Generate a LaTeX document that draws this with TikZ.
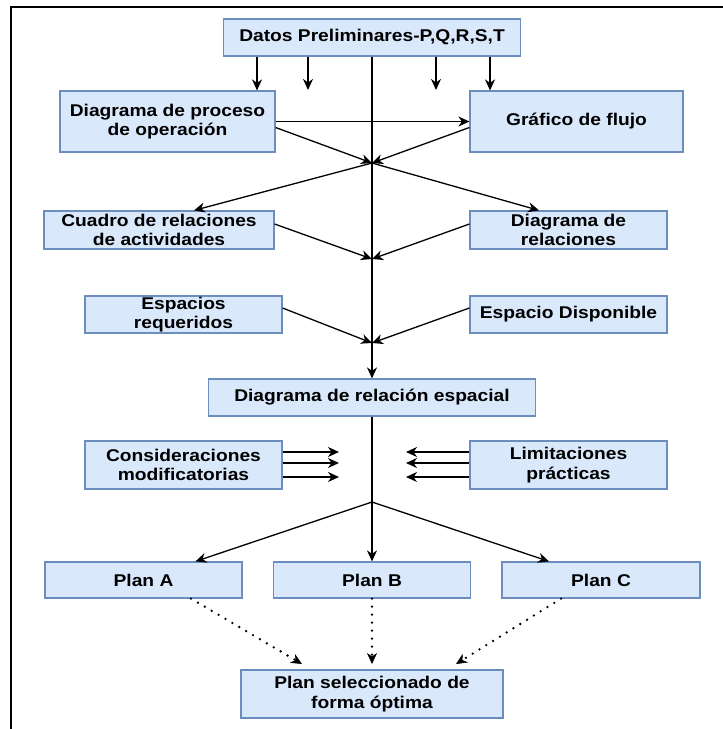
\documentclass[tikz,border=0pt]{standalone}
\usepackage{fontspec}
\setmainfont{Liberation Sans}[FakeStretch=1.13]
\usetikzlibrary{arrows.meta}
\definecolor{boxfill}{HTML}{DAE8FC}
\definecolor{boxline}{HTML}{6C8EBF}
\tikzset{
  box/.style={draw=boxline, fill=boxfill, line width=1.2pt, align=center, inner sep=0pt,
    font=\fontsize{17}{19.5}\selectfont\bfseries},
  arr/.style={line width=1.3pt, -{Stealth[length=11pt,width=10pt,inset=3.5pt]}},
  ln/.style={line width=1.3pt},
  dotarr/.style={line width=2.6pt, line cap=round, dash pattern=on 0pt off 8pt,
    -{Stealth[length=11pt,width=10pt,inset=3.5pt,line width=0.5pt]}},
  frame/.style={line width=2.5pt}
}
\begin{document}
\begin{tikzpicture}[x=1pt,y=-1pt]
\useasboundingbox (0,0) rectangle (723,729);
\fill[white] (0,0) rectangle (723,729);
% frame
\coordinate (fa) at (11,729);
\coordinate (fb) at (11,7);
\coordinate (fc) at (723,7);
\draw[frame] (fa) -- (fb) -- (fc);
% nodes
\node[box, minimum width=297pt, minimum height=37pt] (datos) at (372,37.5) {Datos Preliminares-P,Q,R,S,T};
\node[box, minimum width=215pt, minimum height=61pt] (dpo) at (167.5,121.5) {Diagrama de proceso\\de operación};
\node[box, minimum width=213pt, minimum height=61pt] (gf) at (576.5,121.5) {Gráfico de flujo};
\node[box, minimum width=230pt, minimum height=38pt] (cuadro) at (159,230) {Cuadro de relaciones\\de actividades};
\node[box, minimum width=197pt, minimum height=38pt] (drel) at (568.5,230) {Diagrama de\\relaciones};
\node[box, minimum width=197pt, minimum height=37pt] (esp) at (183.5,314.5) {Espacios\\requeridos};
\node[box, minimum width=197pt, minimum height=37pt] (espd) at (568.5,314.5) {Espacio Disponible};
\node[box, minimum width=327pt, minimum height=37pt] (drs) at (372,397.5) {Diagrama de relación espacial};
\node[box, minimum width=197pt, minimum height=48pt] (cons) at (183.5,465) {Consideraciones\\modificatorias};
\node[box, minimum width=197pt, minimum height=48pt] (lim) at (568.5,465) {Limitaciones\\prácticas};
\node[box, minimum width=197pt, minimum height=36pt] (pa) at (143.5,580) {Plan A};
\node[box, minimum width=197pt, minimum height=36pt] (pb) at (372,580) {Plan B};
\node[box, minimum width=198pt, minimum height=36pt] (pc) at (601,580) {Plan C};
\node[box, minimum width=262pt, minimum height=48pt] (psel) at (372,694) {Plan seleccionado de\\forma óptima};
% junctions and free ends
\coordinate (j1) at (372,163);
\coordinate (j2) at (372,259);
\coordinate (j3) at (372,343);
\coordinate (j4) at (372,502);
\coordinate (f1) at (308,90);
\coordinate (f2) at (436,90);
\coordinate (c1) at (339,452);
\coordinate (c2) at (339,463);
\coordinate (c3) at (339,477);
\coordinate (l1) at (406,452);
\coordinate (l2) at (406,463);
\coordinate (l3) at (406,477);
\coordinate (d1) at (302,664);
\coordinate (d2) at (372,664);
\coordinate (d3) at (456,664);
% top
\draw[arr] (datos.south) -- (drs.north);
\draw[arr] ([xshift=-115pt]datos.south) -- ([xshift=-115pt]datos.south |- dpo.north);
\draw[arr] (datos.south -| f1) -- (f1);
\draw[arr] (datos.south -| f2) -- (f2);
\draw[arr] ([xshift=118pt]datos.south) -- ([xshift=118pt]datos.south |- gf.north);
\draw[arr] (dpo.east) -- (gf.west);
\draw[arr] ([yshift=-6pt]dpo.east) -- (j1);
\draw[arr] ([yshift=-6pt]gf.west) -- (j1);
\draw[arr] (j1) -- ([xshift=35pt]cuadro.north);
\draw[arr] (j1) -- ([xshift=-29.5pt]drel.north);
\draw[arr] ([yshift=6pt]cuadro.east) -- (j2);
\draw[arr] ([yshift=6pt]drel.west) -- (j2);
\draw[arr] ([yshift=6.5pt]esp.east) -- (j3);
\draw[arr] ([yshift=6.5pt]espd.west) -- (j3);
% middle
\draw[ln] (drs.south) -- (j4);
\draw[arr] (cons.east |- c1) -- (c1);
\draw[arr] (cons.east |- c2) -- (c2);
\draw[arr] (cons.east |- c3) -- (c3);
\draw[arr] (lim.west |- l1) -- (l1);
\draw[arr] (lim.west |- l2) -- (l2);
\draw[arr] (lim.west |- l3) -- (l3);
\draw[arr] (j4) -- ([xshift=52pt]pa.north);
\draw[arr] (j4) -- (pb.north);
\draw[arr] (j4) -- ([xshift=-52pt]pc.north);
% dotted
\draw[dotarr] ([xshift=47.5pt]pa.south) -- (d1);
\draw[dotarr] (pb.south) -- (d2);
\draw[dotarr] ([xshift=-40pt]pc.south) -- (d3);
\end{tikzpicture}
\end{document}
